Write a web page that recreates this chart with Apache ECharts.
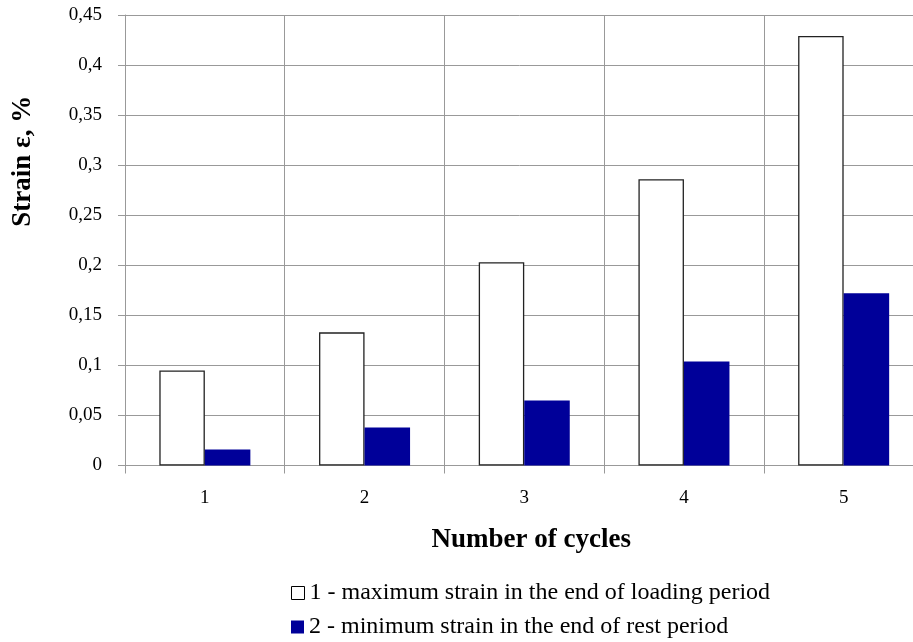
<!DOCTYPE html>
<html><head><meta charset="utf-8">
<script src="https://cdn.jsdelivr.net/npm/echarts@6/dist/echarts.min.js"></script>
<style>html,body{margin:0;padding:0;background:#fff}#c{width:913px;height:642px}</style>
</head><body><div id="c"></div>
<script>
const categories = ['1', '2', '3', '4', '5'];
const maxStrain = [0.095, 0.133, 0.203, 0.286, 0.429];
const minStrain = [0.016, 0.038, 0.065, 0.104, 0.172];
const seriesNames = ['1 - maximum strain in the end of loading period', '2 - minimum strain in the end of rest period'];
const yTitle = 'Strain ε, %';
const xTitle = 'Number of cycles';

const font = '"Liberation Serif", "Times New Roman", serif';
const chart = echarts.init(document.getElementById('c'), null, {renderer: 'canvas'});
const legendText = {fontFamily: font, fontSize: 24, color: '#000'};
chart.setOption({
  animation: false,
  backgroundColor: '#fff',
  textStyle: {fontFamily: font, color: '#000'},
  grid: {left: 125, top: 15, width: 798.5, bottom: 176.5, containLabel: false, outerBoundsMode: 'none'},
  legend: [
    {left: 291, top: 581, padding: 0, itemWidth: 13, itemHeight: 13, icon: 'rect', itemGap: 6,
     textStyle: legendText,
     data: [{name: seriesNames[0], itemStyle: {color: '#fff', borderColor: '#000', borderWidth: 1}}]},
    {left: 291, top: 615, padding: 0, itemWidth: 13, itemHeight: 13, icon: 'rect', itemGap: 6,
     textStyle: legendText,
     data: [{name: seriesNames[1], itemStyle: {color: '#000099'}}]}
  ],
  xAxis: {
    type: 'category', data: categories,
    name: xTitle, nameLocation: 'middle', nameGap: 61,
    nameTextStyle: {fontFamily: font, fontSize: 27, fontWeight: 'bold', color: '#000', padding: [0, 0, 0, 14]},
    axisLine: {lineStyle: {color: '#999'}},
    axisTick: {show: true, length: 8, lineStyle: {color: '#999'}},
    axisLabel: {fontFamily: font, fontSize: 19, color: '#000', margin: 23},
    splitLine: {show: true, lineStyle: {color: '#999', width: 1}}
  },
  yAxis: {
    type: 'value', min: 0, max: 0.45, interval: 0.05,
    name: yTitle, nameLocation: 'middle', nameGap: 88, nameRotate: 90,
    nameTextStyle: {fontFamily: font, fontSize: 27, fontWeight: 'bold', color: '#000', padding: [0, 0, 0, 158]},
    axisLine: {show: true, lineStyle: {color: '#999'}},
    axisTick: {show: true, length: 7, lineStyle: {color: '#999'}},
    axisLabel: {fontFamily: font, fontSize: 19, color: '#000', margin: 23,
      formatter: v => v === 0 ? '0' : String(+v.toFixed(2)).replace('.', ',')},
    splitLine: {show: true, lineStyle: {color: '#999', width: 1}}
  },
  series: [
    {name: seriesNames[0], type: 'bar', data: maxStrain, barWidth: '28.5%', barGap: '0%',
     itemStyle: {color: '#fff', borderColor: '#222', borderWidth: 1.3}},
    {name: seriesNames[1], type: 'bar', data: minStrain, barWidth: '28.5%', barGap: '0%',
     itemStyle: {color: '#000099'}}
  ]
});
</script></body></html>
